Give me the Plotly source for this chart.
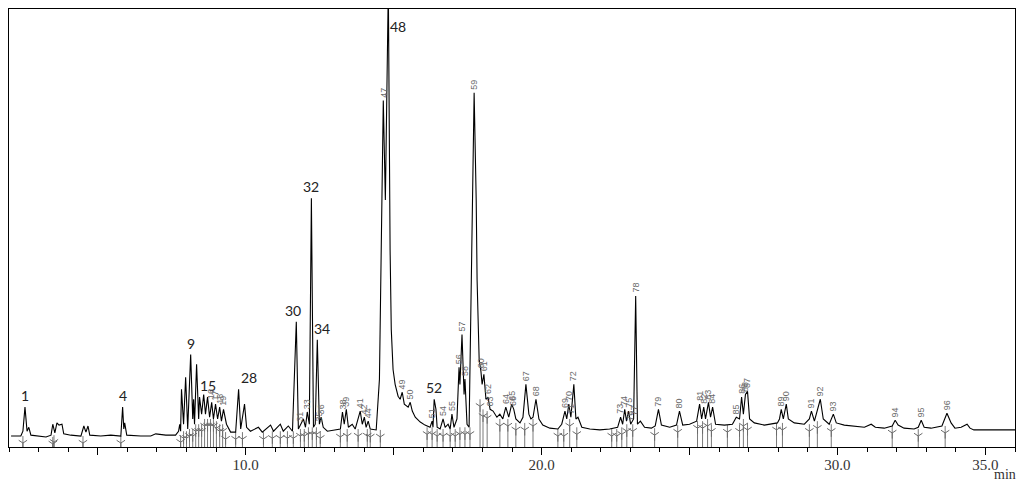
import numpy as np
import plotly.graph_objects as go

# ---------------- data ----------------
# chromatogram trace: retention time (min) and detector signal (arbitrary units, axis 0-100)
rt = [2.07, 2.40, 2.47, 2.54, 2.61, 2.67, 2.74, 3.08, 3.25, 3.42, 3.48, 3.55, 3.62, 3.69, 3.79, 3.85,
      4.09, 4.43, 4.53, 4.60, 4.67, 4.73, 5.10, 5.44, 5.78, 5.84, 5.88, 5.91, 5.98, 6.45, 6.79, 6.96,
      7.30, 7.63, 7.73, 7.77, 7.80, 7.83, 7.90, 7.97, 8.04, 8.14, 8.21, 8.24, 8.27, 8.34, 8.41, 8.44,
      8.51, 8.58, 8.64, 8.71, 8.78, 8.85, 8.91, 8.98, 9.05, 9.12, 9.18, 9.25, 9.35, 9.49, 9.66, 9.76,
      9.83, 9.96, 10.03, 10.16, 10.43, 10.56, 10.84, 10.94, 11.17, 11.27, 11.44, 11.58, 11.71, 11.78,
      11.85, 11.95, 12.02, 12.08, 12.15, 12.22, 12.29, 12.35, 12.42, 12.49, 12.55, 12.62, 12.76, 13.03,
      13.20, 13.27, 13.33, 13.40, 13.47, 13.60, 13.70, 13.87, 13.94, 14.01, 14.07, 14.14, 14.21, 14.41,
      14.52, 14.58, 14.65, 14.72, 14.82, 14.88, 14.92, 14.98, 15.05, 15.15, 15.22, 15.29, 15.36, 15.49,
      15.56, 15.63, 15.73, 15.90, 16.06, 16.23, 16.30, 16.33, 16.37, 16.43, 16.47, 16.57, 16.67, 16.74,
      16.84, 16.91, 16.97, 17.04, 17.14, 17.21, 17.24, 17.31, 17.38, 17.41, 17.48, 17.55, 17.62, 17.65,
      17.72, 17.79, 17.82, 17.89, 17.95, 17.99, 18.05, 18.12, 18.19, 18.26, 18.36, 18.49, 18.59, 18.69,
      18.79, 18.89, 18.99, 19.06, 19.13, 19.27, 19.37, 19.47, 19.57, 19.64, 19.71, 19.81, 19.91, 20.04,
      20.28, 20.55, 20.68, 20.79, 20.85, 20.92, 20.99, 21.09, 21.16, 21.23, 21.36, 21.63, 21.97, 22.30,
      22.57, 22.67, 22.74, 22.81, 22.87, 22.94, 23.01, 23.11, 23.18, 23.24, 23.34, 23.48, 23.71, 23.84,
      23.95, 24.05, 24.33, 24.56, 24.66, 24.77, 25.00, 25.24, 25.34, 25.41, 25.48, 25.54, 25.64, 25.71,
      25.78, 25.88, 26.18, 26.45, 26.58, 26.69, 26.76, 26.82, 26.89, 26.96, 27.03, 27.19, 27.53, 27.97,
      28.04, 28.10, 28.17, 28.27, 28.34, 28.54, 28.88, 29.05, 29.12, 29.22, 29.32, 29.42, 29.52, 29.72,
      29.86, 29.96, 30.23, 30.57, 30.91, 31.14, 31.28, 31.58, 31.85, 31.95, 32.05, 32.25, 32.59, 32.73,
      32.83, 32.93, 33.16, 33.53, 33.70, 33.84, 33.97, 34.18, 34.28, 34.38, 34.48, 34.61, 35.11, 36.00]
signal = [2.5, 2.5, 3.6, 9.1, 3.6, 4.5, 2.7, 2.5, 2.3, 2.7, 5.2, 3.2, 5.5, 5.0, 5.2, 3.0,
          2.7, 2.5, 4.8, 3.4, 4.8, 2.7, 2.5, 2.7, 2.5, 9.1, 4.1, 5.5, 2.7, 2.5, 2.5, 3.0,
          2.7, 2.7, 3.6, 5.2, 3.6, 13.2, 5.2, 15.9, 4.1, 21.1, 6.4, 10.9, 5.2, 18.9, 6.4, 11.4,
          7.5, 12.0, 7.5, 11.4, 6.8, 10.2, 6.4, 9.8, 6.4, 9.1, 5.9, 8.6, 5.2, 3.4, 3.4, 13.2,
          4.1, 9.8, 4.5, 3.6, 4.5, 3.4, 5.0, 3.6, 5.2, 3.6, 4.8, 3.6, 28.6, 4.1,
          5.2, 6.4, 4.5, 8.0, 5.2, 56.8, 4.5, 5.2, 24.5, 5.2, 6.8, 4.5, 3.6, 3.9,
          4.1, 8.0, 5.2, 8.6, 4.5, 5.2, 4.1, 8.2, 5.2, 6.8, 4.5, 5.9, 4.1, 3.9,
          15.5, 45.0, 79.1, 56.4, 105.0, 45.0, 26.8, 17.7, 14.3, 11.6, 10.9, 12.5, 9.8, 9.1,
          10.2, 8.2, 6.8, 5.7, 5.0, 4.5, 5.9, 4.5, 10.9, 8.6, 4.5, 4.1, 6.4, 4.5,
          5.2, 4.1, 7.5, 4.5, 6.4, 18.2, 14.3, 25.7, 12.0, 15.5, 5.2, 4.5, 33.6, 56.4,
          80.9, 56.4, 38.2, 20.0, 17.3, 14.3, 16.6, 10.9, 11.4, 8.6, 8.2, 6.8, 7.5, 6.4,
          9.1, 6.8, 9.8, 8.6, 6.4, 5.5, 6.8, 14.3, 7.5, 6.4, 6.8, 10.9, 6.4, 5.0,
          4.3, 4.1, 5.2, 8.2, 6.4, 9.8, 6.8, 14.3, 6.4, 6.8, 4.5, 4.1, 3.9, 4.1,
          4.5, 6.8, 5.2, 8.6, 5.9, 8.2, 5.2, 6.4, 34.5, 5.2, 5.9, 4.5, 4.3, 4.8,
          8.6, 5.0, 4.5, 5.0, 8.2, 5.0, 5.2, 5.9, 9.8, 6.4, 9.1, 6.4, 10.2, 6.8,
          9.1, 5.2, 5.0, 5.2, 6.8, 6.4, 11.4, 7.5, 12.0, 12.7, 6.4, 5.5, 5.0, 5.5,
          6.4, 8.6, 6.4, 9.8, 6.4, 5.5, 5.2, 6.4, 8.2, 5.9, 8.2, 10.9, 6.4, 5.2,
          7.5, 5.5, 5.0, 4.8, 4.5, 5.2, 4.5, 4.3, 4.8, 6.1, 5.0, 4.3, 4.1, 4.5,
          6.1, 4.5, 4.3, 4.8, 7.7, 5.5, 4.3, 4.5, 4.8, 5.2, 4.3, 3.9, 3.9, 3.9]

# large (re-typed) peak numbers: label, retention time, apex signal
main_labels = ["1", "4", "9", "15", "28", "30", "32", "34", "48", "52"]
main_label_rt = [2.54, 5.84, 8.14, 8.71, 9.76, 11.71, 12.22, 12.42, 14.82, 16.37]
main_label_sig = [9.1, 9.1, 21.1, 11.4, 13.2, 28.6, 56.8, 24.5, 105.0, 10.9]

# small rotated peak numbers from the data system
small_labels = ["16", "17", "18", "19", "31", "33", "35", "36", "38", "39", "41", "42", "44",
                "47", "49", "50", "51", "54", "55", "56", "57", "58", "59", "60", "61", "62", "63",
                "64", "65", "66", "67", "68", "69", "70", "71", "72", "73", "74", "75", "76", "77",
                "78", "79", "80", "81", "82", "83", "84", "85", "86", "87", "88", "89", "90", "91",
                "92", "93", "94", "95", "96"]
small_label_rt = [8.85, 8.98, 9.12, 9.25, 11.85, 12.08, 12.49, 12.55, 13.27, 13.40, 13.87, 14.01, 14.14,
                  14.65, 15.29, 15.56, 16.30, 16.67, 16.97, 17.21, 17.31, 17.41, 17.72, 17.95, 18.05, 18.19, 18.26,
                  18.79, 18.99, 19.06, 19.47, 19.81, 20.79, 20.92, 20.99, 21.09, 22.67, 22.81, 22.94, 23.01, 23.11,
                  23.18, 23.95, 24.66, 25.34, 25.48, 25.64, 25.78, 26.58, 26.76, 26.96, 26.89, 28.10, 28.27, 29.12,
                  29.42, 29.86, 31.95, 32.83, 33.70]
small_label_sig = [10.2, 9.8, 9.1, 8.6, 5.2, 8.0, 5.2, 6.8, 8.0, 8.6, 8.2, 6.8, 5.9,
                   79.1, 12.5, 10.2, 5.9, 6.4, 7.5, 18.2, 25.7, 15.5, 80.9, 17.3, 16.6, 11.4, 8.6,
                   9.1, 9.8, 8.6, 14.3, 10.9, 8.2, 9.8, 6.8, 14.3, 6.8, 8.6, 8.2, 5.2, 6.4,
                   34.5, 8.6, 8.2, 9.8, 9.1, 10.2, 9.1, 6.8, 11.4, 12.7, 12.0, 8.6, 9.8, 8.2,
                   10.9, 7.5, 6.1, 6.1, 7.7]

# integration start/end marks (retention times)
mark_rt = [2.47, 3.48, 3.52, 4.50, 5.78, 7.80, 7.90, 8.00, 8.10, 8.21, 8.31, 8.41, 8.51, 8.61, 8.71,
           8.81, 8.91, 9.01, 9.12, 9.22, 9.32, 9.66, 9.89, 10.60, 10.90, 11.17, 11.41, 11.61, 11.85,
           11.98, 12.12, 12.25, 12.39, 12.52, 13.20, 13.43, 13.80, 14.11, 14.21, 14.55, 16.13, 16.30,
           16.47, 16.67, 16.91, 17.08, 17.24, 17.41, 17.58, 17.92, 18.02, 18.16, 18.59, 18.86, 19.13,
           19.43, 19.71, 20.55, 20.75, 20.95, 21.19, 22.37, 22.54, 22.71, 22.88, 23.08, 23.82, 24.60,
           25.27, 25.44, 25.61, 25.74, 26.28, 26.69, 26.82, 26.96, 27.94, 28.14, 29.05, 29.32, 29.79,
           31.85, 32.73, 33.64]

tick_vals = [5, 10, 15, 20, 25, 30, 35]
tick_text = ["", "10.0", "", "20.0", "", "30.0", "35.0"]

# ---------------- styles ----------------
main_shift = {"28": 10, "30": -3, "34": 5, "48": 10}
MARK_GRAY = "#6a6a6a"

# ---------------- figure ----------------
fig = go.Figure()

rt_a = np.array(rt)
sig_a = np.array(signal)

# local baseline level under each integration mark (minimum of trace nearby)
mark_base = []
for t in mark_rt:
    win = (rt_a >= t - 0.25) & (rt_a <= t + 0.25)
    lo = sig_a[win].min() if win.any() else float(np.interp(t, rt_a, sig_a))
    mark_base.append(lo)

stem_x, stem_y = [], []
for t, b in zip(mark_rt, mark_base):
    stem_x += [t, t, None]
    stem_y += [0, b, None]

fig.add_trace(go.Scatter(x=stem_x, y=stem_y, mode="lines",
                         line=dict(color="#7a7a7a", width=1), hoverinfo="skip", showlegend=False))
fig.add_trace(go.Scatter(x=mark_rt, y=[b - 1.6 for b in mark_base], mode="markers",
                         marker=dict(symbol="y-down-open", size=7, color=MARK_GRAY,
                                     line=dict(color=MARK_GRAY, width=1)),
                         hoverinfo="skip", showlegend=False))

fig.add_trace(go.Scatter(x=rt, y=signal, mode="lines",
                         line=dict(color="#000000", width=1.1), showlegend=False))

for lab, t, s in zip(main_labels, main_label_rt, main_label_sig):
    fig.add_annotation(x=t, y=min(s, 96), text=lab, showarrow=False,
                       xanchor="center", yanchor="bottom" if s < 96 else "middle",
                       xshift=main_shift.get(lab, 0), yshift=1 if s < 96 else 0,
                       font=dict(family="Lato, Open Sans, sans-serif", size=14, color="#222222"))

for lab, t, s in zip(small_labels, small_label_rt, small_label_sig):
    fig.add_annotation(x=t, y=s, text=lab, showarrow=False, textangle=-90,
                       xanchor="center", yanchor="bottom", yshift=1,
                       font=dict(family="Liberation Sans, Arial, sans-serif", size=9, color="#6a6a6a"))

fig.add_annotation(xref="paper", yref="paper", x=0.99, y=0, yshift=-36, text="min", showarrow=False,
                   xanchor="center", yanchor="bottom", borderpad=0,
                   font=dict(family="Liberation Serif, Times New Roman, serif", size=14, color="#333333"))

# the page body keeps an 8 px margin, so the figure is sized to fit inside it
fig.update_layout(
    width=1008, height=476,
    margin=dict(l=1, r=1, t=1, b=37),
    paper_bgcolor="white", plot_bgcolor="white",
    xaxis=dict(range=[2, 36], showgrid=False, zeroline=False,
               showline=True, mirror=True, linecolor="#000000", linewidth=1,
               ticks="outside", ticklen=7, tickcolor="#000000", ticklabelstandoff=-3,
               tickvals=tick_vals, ticktext=tick_text,
               minor=dict(dtick=1, ticks="outside", ticklen=4, tickcolor="#000000", showgrid=False),
               tickfont=dict(family="Liberation Serif, Times New Roman, serif", size=15, color="#333333")),
    yaxis=dict(range=[0, 100], showgrid=False, zeroline=False,
               showline=True, mirror=True, linecolor="#000000", linewidth=1,
               showticklabels=False, ticks=""),
)

fig.write_html("out.html")
